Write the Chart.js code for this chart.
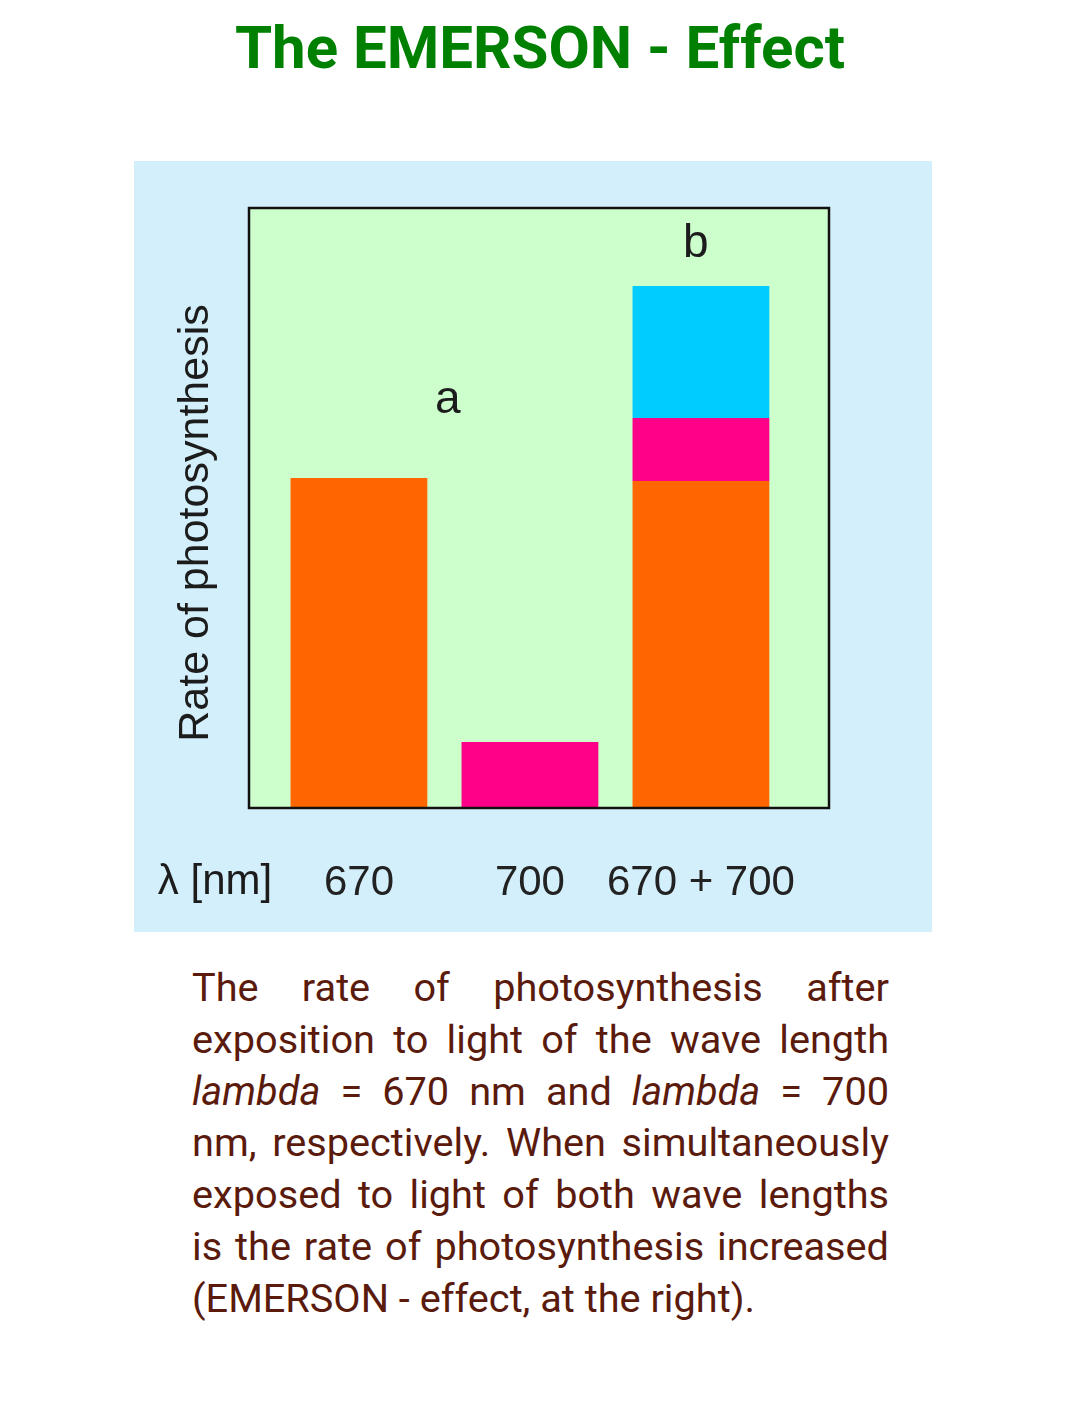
<!DOCTYPE html>
<html><head><meta charset="utf-8">
<script src="https://cdn.jsdelivr.net/npm/chart.js@4.4.0/dist/chart.umd.min.js"></script>
<style>
html,body{margin:0;padding:0;background:#fff;width:1080px;height:1422px;overflow:hidden;}
#title{position:absolute;left:0;top:13px;width:1080px;text-align:center;font-family:Roboto,sans-serif;font-weight:700;font-size:60px;line-height:70px;color:#008000;margin:0;}
#panel{position:absolute;left:134px;top:161px;width:798px;height:771px;background:#d3effb;}
#caption{position:absolute;left:192px;top:962px;width:697px;font-family:Roboto,sans-serif;font-size:39.7px;line-height:51.8px;color:#5a1a0c;}
#caption .l{text-align:justify;text-align-last:justify;white-space:nowrap;}
#caption .last{text-align:left;white-space:nowrap;}
</style></head>
<body>
<h1 id="title">The EMERSON - Effect</h1>
<div id="panel"><canvas id="c" width="798" height="771"></canvas></div>
<div id="caption">
<div class="l">The rate of photosynthesis after</div>
<div class="l">exposition to light of the wave length</div>
<div class="l"><i>lambda</i> = 670 nm and <i>lambda</i> = 700</div>
<div class="l">nm, respectively. When simultaneously</div>
<div class="l">exposed to light of both wave lengths</div>
<div class="l">is the rate of photosynthesis increased</div>
<div class="last">(EMERSON - effect, at the right).</div>
</div>
<script>
// ---- data ----
const categories = ['670', '700', '670 + 700'];
const positions = [1, 2, 3];
const rate670 = [55, 0, 54.5];      // orange
const rate700 = [0, 11, 10.5];      // magenta
const emersonGain = [0, 0, 22];     // cyan (extra)
const noteLabels = ['a', 'b'];
const noteX = [1.52, 2.97];
const noteY = [68, 94];
const xUnitLabel = 'λ [nm]';
const yTitle = 'Rate of photosynthesis';

const toPts = arr => positions.map((p, i) => ({x: p, y: arr[i] || null}));

const textFont = '"Liberation Sans", Arial, sans-serif';

const framePlugin = {
  id: 'frame',
  beforeDatasetsDraw(chart) {
    const {ctx, chartArea: a} = chart;
    ctx.save();
    ctx.fillStyle = '#ccffcc';
    ctx.fillRect(a.left, a.top, a.right - a.left, a.bottom - a.top);
    ctx.restore();
  },
  afterDatasetsDraw(chart) {
    const {ctx, chartArea: a, scales} = chart;
    ctx.save();
    ctx.strokeStyle = '#111';
    ctx.lineWidth = 2.5;
    ctx.strokeRect(a.left, a.top, a.right - a.left, a.bottom - a.top);
    ctx.fillStyle = '#1c1c1c';
    ctx.textAlign = 'center';
    ctx.textBaseline = 'middle';
    ctx.font = '46px ' + textFont;
    noteLabels.forEach((t, i) => {
      ctx.fillText(t, scales.x.getPixelForValue(noteX[i]), scales.y.getPixelForValue(noteY[i]));
    });
    // y title
    ctx.font = '43px ' + textFont;
    ctx.save();
    ctx.translate(62, 362);
    ctx.rotate(-Math.PI / 2);
    ctx.fillText(yTitle, 0, 0);
    ctx.restore();
    // unit label
    ctx.font = '42px ' + textFont;
    ctx.fillText(xUnitLabel, 81, 721);
    ctx.restore();
  }
};

new Chart(document.getElementById('c'), {
  type: 'bar',
  data: {
    datasets: [
      {label: '670', data: toPts(rate670), backgroundColor: '#ff6600'},
      {label: '700', data: toPts(rate700), backgroundColor: '#ff0088'},
      {label: 'gain', data: toPts(emersonGain), backgroundColor: '#00ccff'}
    ]
  },
  options: {
    responsive: false,
    animation: false,
    events: [],
    layout: {padding: {left: 115, top: 47, right: 103, bottom: 0}},
    plugins: {legend: {display: false}, tooltip: {enabled: false}},
    datasets: {bar: {barPercentage: 0.8, categoryPercentage: 1, borderWidth: 0}},
    scales: {
      x: {
        type: 'linear', stacked: true, min: 0.357, max: 3.749, offset: false,
        grid: {display: false, drawTicks: false, offset: false},
        border: {display: false},
        afterBuildTicks: s => { s.ticks = positions.map(v => ({value: v})); },
        afterFit: s => { s.height = 124; },
        ticks: {
          padding: 50, color: '#222', font: {family: textFont, size: 42},
          maxRotation: 0, autoSkip: false,
          callback: v => categories[positions.indexOf(v)]
        }
      },
      y: {
        stacked: true, min: 0, max: 100, display: false
      }
    }
  },
  plugins: [framePlugin]
});
</script>
</body></html>
